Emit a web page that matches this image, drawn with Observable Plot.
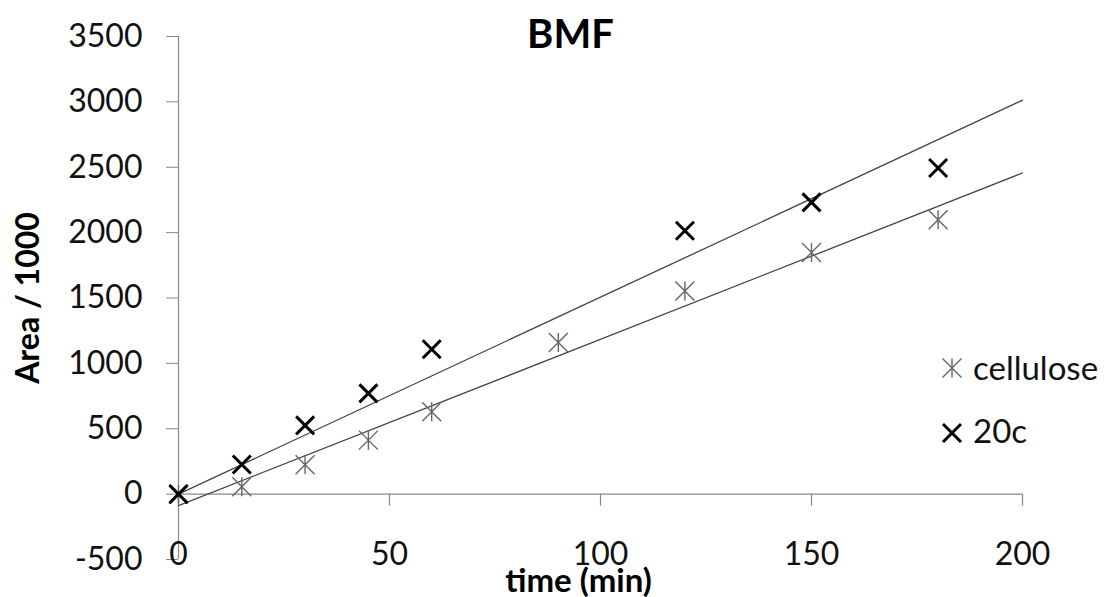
<!DOCTYPE html>
<html><head><meta charset="utf-8">
<script src="https://cdn.jsdelivr.net/npm/d3@7"></script>
<script src="https://cdn.jsdelivr.net/npm/@observablehq/plot@0.6"></script>
<style>
body{margin:0;background:#fff;}
#wrap{position:relative;width:1106px;height:597px;overflow:hidden;font-family:Lato,sans-serif;}
.lg-sym{position:absolute;width:24px;height:24px;}
.lg-txt{position:absolute;font-family:Lato,sans-serif;font-size:33px;line-height:33px;color:#111;white-space:nowrap;}
</style></head>
<body><div id="wrap"></div>
<script>
// ---- data ----
const title = "BMF";
const xLabel = "time (min)";
const yLabel = "Area / 1000";
const xTicks = [0, 50, 100, 150, 200];
const yTicks = [-500, 0, 500, 1000, 1500, 2000, 2500, 3000, 3500];
const xDomain = [0, 200];
const yDomain = [-500, 3500];
const seriesNames = ["cellulose", "20c"];
const timesCellulose = [0, 15, 30, 45, 60, 90, 120, 150, 180];
const areaCellulose = [0, 56, 225, 413, 630, 1159, 1554, 1848, 2098];
const times20c = [0, 15, 30, 45, 60, 120, 150, 180];
const area20c = [0, 227, 526, 771, 1108, 2014, 2231, 2494];

// ---- symbols ----
const starSymbol = {draw(ctx, size) {
  const r = Math.sqrt(size / Math.PI);
  ctx.moveTo(-r, -r); ctx.lineTo(r, r);
  ctx.moveTo(-r, r); ctx.lineTo(r, -r);
  ctx.moveTo(0, -r); ctx.lineTo(0, r);
}};
const crossSymbol = {draw(ctx, size) {
  const r = Math.sqrt(size / Math.PI);
  ctx.moveTo(-r, -r); ctx.lineTo(r, r);
  ctx.moveTo(-r, r); ctx.lineTo(r, -r);
}};

// ---- tables ----
const celluloseData = timesCellulose.map((t, i) => ({t, a: areaCellulose[i]}));
const c20Data = times20c.map((t, i) => ({t, a: area20c[i]}));

// linear trendline (ordinary least squares)
function olsFit(data) {
  const mx = d3.mean(data, d => d.t), my = d3.mean(data, d => d.a);
  const sxy = d3.sum(data, d => (d.t - mx) * (d.a - my));
  const sxx = d3.sum(data, d => (d.t - mx) ** 2);
  const m = sxy / sxx; return {m, b: my - m * mx};
}
// linear trendline with intercept fixed at 0
function originFit(data) {
  const m = d3.sum(data, d => d.t * d.a) / d3.sum(data, d => d.t * d.t);
  return {m, b: 0};
}
const fitC = olsFit(celluloseData);
const fit20 = originFit(c20Data);
const trendC = xDomain.map(t => ({t, a: fitC.m * t + fitC.b}));
const trend20 = xDomain.map(t => ({t, a: fit20.m * t + fit20.b}));

const fmt = d => String(d);

const chart = Plot.plot({
  width: 1106, height: 597,
  marginLeft: 178, marginRight: 84, marginTop: 36, marginBottom: 38,
  x: {domain: xDomain},
  y: {domain: yDomain},
  style: {fontFamily: "Lato, sans-serif", fontSize: "32px", color: "#111", background: "white"},
  marks: [
    Plot.ruleY([0], {stroke: "#888", strokeWidth: 1.2}),
    Plot.ruleX([0], {stroke: "#888", strokeWidth: 1.2}),
    Plot.ruleX(xTicks, {x: d => d, y1: 0, y2: 0, insetBottom: -12, stroke: "#888", strokeWidth: 1.2}),
    Plot.axisY({ticks: yTicks, tickSize: 12, tickPadding: 24, anchor: "left", tickFormat: fmt, label: null, stroke: "#888", fill: "#111"}),
    Plot.axisX({ticks: xTicks, tickSize: 0, tickPadding: -17, anchor: "bottom", tickFormat: fmt, label: null, fill: "#111"}),
    Plot.line(trendC, {x: "t", y: "a", stroke: "#444", strokeWidth: 1.3}),
    Plot.line(trend20, {x: "t", y: "a", stroke: "#444", strokeWidth: 1.3}),
    Plot.dot(celluloseData, {x: "t", y: "a", symbol: starSymbol, r: 9.5, fill: "none", stroke: "#666", strokeWidth: 1.4}),
    Plot.dot(c20Data, {x: "t", y: "a", symbol: crossSymbol, r: 9, fill: "none", stroke: "#000", strokeWidth: 3}),
    Plot.text([title], {frameAnchor: "top", dx: -30, dy: -1, fontSize: 40, fontWeight: "bold", fill: "#000", lineAnchor: "middle", textAnchor: "middle"}),
    Plot.text([yLabel], {frameAnchor: "left", rotate: -90, dx: -150, fontSize: 32, fontWeight: "bold", fill: "#000", lineAnchor: "middle", textAnchor: "middle"}),
    Plot.text([xLabel], {frameAnchor: "bottom", dx: -22, dy: 22, fontSize: 33, fontWeight: "bold", fill: "#000", lineAnchor: "middle", textAnchor: "middle"})
  ]
});
const wrap = document.getElementById("wrap");
wrap.appendChild(chart);

// ---- legend (HTML overlay) ----
const legendSymbols = [
  {name: seriesNames[0], path: "M2.5,2.5L21.5,21.5M2.5,21.5L21.5,2.5M12,2.5L12,21.5", stroke: "#666", sw: 1.4, cy: 368, base: 380},
  {name: seriesNames[1], path: "M3,3L21,21M3,21L21,3", stroke: "#000", sw: 3, cy: 433, base: 443}
];
for (const it of legendSymbols) {
  const s = document.createElementNS("http://www.w3.org/2000/svg", "svg");
  s.setAttribute("class", "lg-sym");
  s.setAttribute("viewBox", "0 0 24 24");
  s.style.left = "940px"; s.style.top = (it.cy - 12) + "px";
  s.innerHTML = `<path d="${it.path}" fill="none" stroke="${it.stroke}" stroke-width="${it.sw}"/>`;
  wrap.appendChild(s);
  const t = document.createElement("div");
  t.className = "lg-txt";
  t.textContent = it.name;
  t.style.left = "973px"; t.style.top = (it.base - 29.3) + "px";
  wrap.appendChild(t);
}
</script></body></html>
